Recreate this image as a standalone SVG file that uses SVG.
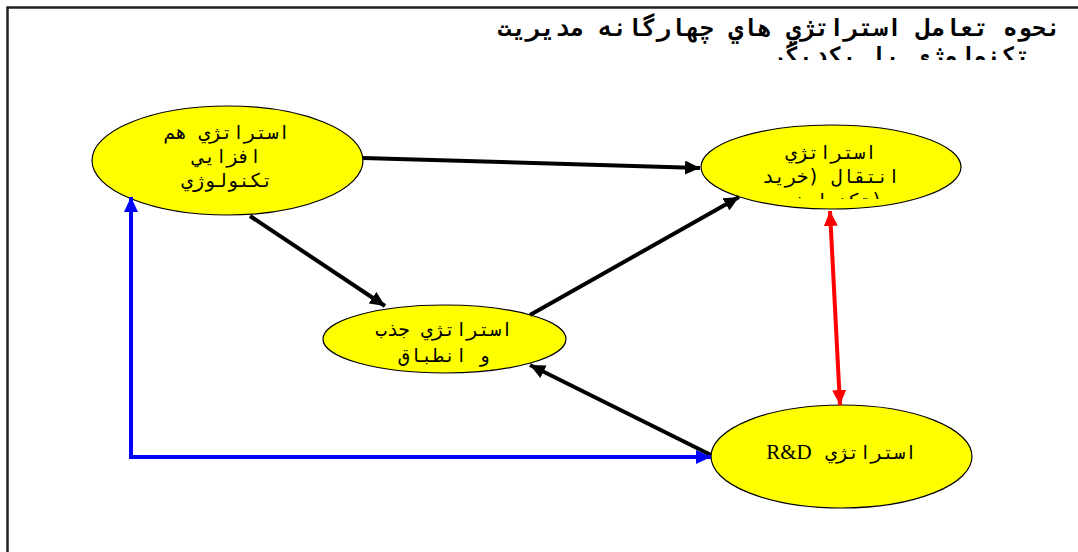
<svg xmlns="http://www.w3.org/2000/svg" width="1078" height="552" viewBox="0 0 1078 552">
<style>
.node ellipse{fill:#ffff00;stroke:#000;stroke-width:1.2}
.fa{font-family:'DejaVu Sans Mono','Liberation Mono',monospace;font-size:19px;fill:#000;text-anchor:middle}
.rd{font-family:'Liberation Serif','Times New Roman',serif;font-size:21px;fill:#000;text-anchor:middle}
.title{font-family:'DejaVu Sans Mono','Liberation Mono',monospace;font-size:24px;font-weight:bold;fill:#000;text-anchor:middle}
.con{fill:none;stroke-width:4}
</style>
<defs>
<marker id="ahK" markerUnits="userSpaceOnUse" markerWidth="16" markerHeight="14" refX="15" refY="7" orient="auto-start-reverse"><path d="M0,0 L15,7 L0,14 z" fill="#000"/></marker>
<marker id="ahR" markerUnits="userSpaceOnUse" markerWidth="16" markerHeight="14" refX="15" refY="7" orient="auto-start-reverse"><path d="M0,0 L15,7 L0,14 z" fill="#ff0000"/></marker>
<marker id="ahB" markerUnits="userSpaceOnUse" markerWidth="16" markerHeight="14" refX="15" refY="7" orient="auto-start-reverse"><path d="M0,0 L15,7 L0,14 z" fill="#0000ff"/></marker>
<clipPath id="clipTitle"><rect x="0" y="0" width="1078" height="60"/></clipPath>
<clipPath id="clipN2"><rect x="690" y="120" width="290" height="79"/></clipPath>
</defs>
<rect x="0" y="0" width="1078" height="552" fill="#fff"/>
<g id="frame" fill="none" stroke="#222" stroke-width="2.5">
<path d="M7.5,552 L7.5,7.5 L1078,7.5"/>
</g>
<g id="title" clip-path="url(#clipTitle)">
<text class="title" x="779" y="36">نحوه تعامل استراتژي هاي چهارگانه مديريت</text>
<text class="title" x="900" y="64">تکنولوژي با يکديگر</text>
</g>
<g id="n1" class="node">
<ellipse cx="227.5" cy="160.5" rx="135.5" ry="54.5"/>
<text class="fa" x="227" y="139">استراتژي هم</text>
<text class="fa" x="227" y="163">افزايي</text>
<text class="fa" x="227" y="187">تکنولوژي</text>
</g>
<g id="n2" class="node">
<ellipse cx="831" cy="167" rx="130" ry="42"/>
<text class="fa" x="831" y="159">استراتژي</text>
<text class="fa" x="831" y="183">انتقال (خريد</text>
<text class="fa" x="831" y="207" clip-path="url(#clipN2)">تکنولوژي)</text>
</g>
<g id="n3" class="node">
<ellipse cx="444.5" cy="339" rx="121.5" ry="34"/>
<text class="fa" x="444" y="336">استراتژي جذب</text>
<text class="fa" x="444" y="362">و انطباق</text>
</g>
<g id="n4" class="node">
<ellipse cx="841.5" cy="456.5" rx="130.5" ry="51.5"/>
<text class="fa" x="871" y="459">استراتژي</text>
<text class="rd" x="789" y="459">R&amp;D</text>
</g>
<g id="connectors">
<line class="con" stroke="#000" x1="363" y1="158" x2="700" y2="168" marker-end="url(#ahK)"/>
<line class="con" stroke="#000" x1="250" y1="216" x2="385" y2="306" marker-end="url(#ahK)"/>
<line class="con" stroke="#000" x1="530" y1="315" x2="739" y2="197" marker-end="url(#ahK)"/>
<line class="con" stroke="#000" x1="711" y1="455" x2="530" y2="365" marker-end="url(#ahK)"/>
<line class="con" stroke="#ff0000" x1="830" y1="211" x2="840" y2="405" marker-start="url(#ahR)" marker-end="url(#ahR)"/>
<polyline class="con" stroke="#0000ff" points="131,197 131,457 711,457" marker-start="url(#ahB)" marker-end="url(#ahB)"/>
</g>
</svg>
